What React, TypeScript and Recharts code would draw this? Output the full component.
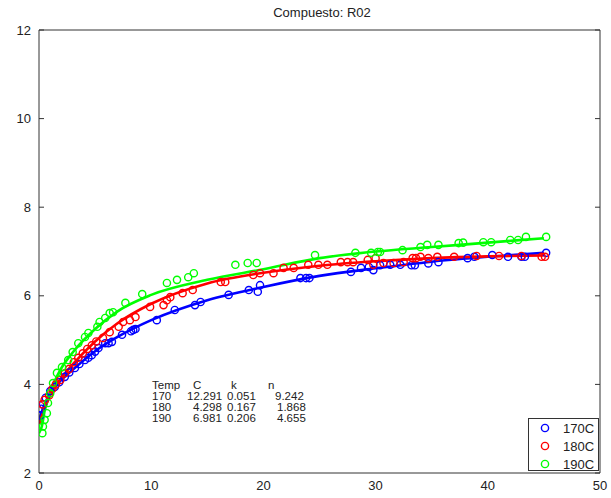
import React from 'react';
import { ComposedChart, Line, Scatter, XAxis, YAxis } from 'recharts';

const xTicks = [0, 10, 20, 30, 40, 50];
const yTicks = [2, 4, 6, 8, 10, 12];
const temps = ['170C', '180C', '190C'];
const colors = ['#0000ff', '#ff0000', '#00ff00'];

// fitted curves
const fit170 = [[0, 3.2], [0.5, 3.55], [1, 3.8], [2, 4.1], [3, 4.33], [5, 4.75], [7, 5.07], [10, 5.45], [15, 5.9], [20, 6.2], [25, 6.45], [30, 6.62], [35, 6.77], [40, 6.88], [45, 6.97]];
const fit180 = [[0, 3.1], [0.5, 3.45], [1, 3.75], [2, 4.15], [3, 4.45], [5, 4.97], [7, 5.38], [10, 5.82], [15, 6.28], [20, 6.52], [25, 6.68], [30, 6.78], [35, 6.85], [40, 6.89], [45, 6.91]];
const fit190 = [[0, 2.9], [0.25, 3.05], [0.5, 3.4], [1, 3.82], [2, 4.37], [3, 4.72], [5, 5.25], [7, 5.65], [10, 6.02], [15, 6.36], [20, 6.6], [25, 6.85], [30, 7.0], [35, 7.1], [40, 7.2], [45, 7.3]];

// measured points
const obs170 = [
  [0.1, 3.3], [0.2, 3.45], [0.35, 3.55], [0.6, 3.7], [1.0, 3.85], [1.4, 3.94], [1.8, 4.05], [2.3, 4.17], [2.7, 4.27],
  [3.2, 4.37], [3.6, 4.46], [4.1, 4.55], [4.4, 4.6], [4.7, 4.66], [5.0, 4.74], [5.3, 4.82], [5.9, 4.93], [6.2, 4.93],
  [6.5, 4.96], [7.4, 5.12], [8.2, 5.2], [8.4, 5.23], [8.6, 5.25], [10.5, 5.45], [12.1, 5.68], [13.9, 5.79], [14.4, 5.86],
  [16.9, 6.02], [18.7, 6.13], [19.5, 6.09], [19.7, 6.24], [23.3, 6.4], [23.8, 6.4], [24.1, 6.4], [27.8, 6.54],
  [28.7, 6.63], [29.4, 6.65], [29.8, 6.58], [30.4, 6.69], [31.3, 6.7], [32.2, 6.7], [33.2, 6.69], [33.5, 6.69],
  [34.7, 6.73], [35.6, 6.76], [38.2, 6.85], [38.8, 6.88], [40.4, 6.92], [41.8, 6.88], [43.0, 6.88], [43.3, 6.88], [45.2, 6.97],
];
const obs180 = [
  [0.3, 3.55], [0.5, 3.65], [0.9, 3.75], [1.2, 3.9], [1.5, 4.0], [1.9, 4.1], [2.3, 4.25], [2.7, 4.35], [3.1, 4.5],
  [3.5, 4.6], [3.9, 4.7], [4.3, 4.8], [4.7, 4.88], [5.1, 4.97], [5.7, 5.05], [6.3, 5.18], [7.1, 5.3], [7.5, 5.41],
  [8.1, 5.45], [8.6, 5.52], [9.9, 5.75], [11.1, 5.79], [11.4, 5.9], [11.7, 5.97], [12.8, 6.06], [13.7, 6.13],
  [16.2, 6.31], [16.6, 6.31], [19.1, 6.47], [19.7, 6.51], [20.9, 6.51], [21.8, 6.63], [22.7, 6.63], [24.0, 6.7],
  [24.9, 6.7], [25.7, 6.7], [26.9, 6.76], [27.5, 6.76], [28.0, 6.76], [29.3, 6.81], [29.8, 6.7], [30.0, 6.85],
  [30.7, 6.74], [31.6, 6.74], [32.5, 6.76], [33.3, 6.85], [33.6, 6.85], [34.0, 6.88], [34.7, 6.85], [35.5, 6.88],
  [37.0, 6.88], [39.0, 6.9], [41.0, 6.9], [43.0, 6.9], [44.8, 6.88], [45.1, 6.88],
];
const obs190 = [
  [0.3, 2.9], [0.35, 3.05], [0.5, 3.2], [0.7, 3.35], [0.8, 3.58], [1.0, 3.8], [1.25, 4.03], [1.6, 4.26], [2.05, 4.39],
  [2.6, 4.55], [3.0, 4.73], [3.5, 4.93], [4.1, 5.07], [4.4, 5.16], [5.2, 5.3], [5.4, 5.41], [5.9, 5.5], [6.3, 5.61],
  [6.6, 5.63], [7.7, 5.84], [9.2, 6.04], [11.4, 6.29], [12.3, 6.36], [13.3, 6.42], [13.8, 6.51], [17.5, 6.7],
  [18.6, 6.74], [19.4, 6.74], [24.6, 6.92], [28.2, 6.97], [29.6, 6.97], [30.2, 6.99], [30.4, 6.99], [32.4, 7.03],
  [34.0, 7.1], [34.6, 7.15], [35.6, 7.15], [37.4, 7.19], [37.8, 7.2], [39.6, 7.21], [40.3, 7.21], [42.0, 7.26],
  [42.7, 7.26], [43.4, 7.33], [45.2, 7.33],
];

const tableHeader = ['Temp', 'C', 'k', 'n'];
const tableRows = [
  ['170', '12.291', '0.051', '9.242'],
  ['180', '4.298', '0.167', '1.868'],
  ['190', '6.981', '0.206', '4.655'],
];

const toPts = (a: number[][]) => a.map(([x, y]) => ({ x, y }));
const fits = [fit170, fit180, fit190].map(toPts);
const obs = [obs170, obs180, obs190].map(toPts);

const font = 'Liberation Sans, Arial, Helvetica, sans-serif';
const axisColor = '#333';
const blank = () => '';

const ring = (color: string) => (props: any) => (
  <circle cx={props.cx} cy={props.cy} r={3.6} fill="none" stroke={color} strokeWidth={1.4} />
);

// column starts for the parameter table
const headerX = [152, 193, 231, 268];
const cellX = [[152, 187, 227, 275], [152, 193, 227, 277], [152, 193, 227, 277]];

export default function App() {
  return (
    <div style={{ position: 'absolute', left: 0, top: 0, width: 611, height: 498, background: '#fff', fontFamily: font }}>
      <ComposedChart width={611} height={498} margin={{ top: 30, right: 11, bottom: 0, left: 0 }}>
        <XAxis dataKey="x" type="number" domain={[0, 50]} ticks={xTicks} allowDataOverflow height={25}
          tickLine={false} axisLine={{ stroke: axisColor }} tick={{ fill: '#222', fontSize: 13, fontFamily: font }} />
        <XAxis xAxisId="bin" type="number" domain={[0, 50]} ticks={xTicks} allowDataOverflow mirror
          tickFormatter={blank} axisLine={false} tickSize={5} tickLine={{ stroke: axisColor }} />
        <XAxis xAxisId="top" orientation="top" type="number" domain={[0, 50]} ticks={xTicks} allowDataOverflow mirror
          tickFormatter={blank} axisLine={{ stroke: axisColor }} tickSize={5} tickLine={{ stroke: axisColor }} />
        <YAxis type="number" domain={[2, 12]} ticks={yTicks} allowDataOverflow width={39}
          tickLine={false} axisLine={{ stroke: axisColor }} tick={{ fill: '#222', fontSize: 13, fontFamily: font }} />
        <YAxis yAxisId="lin" type="number" domain={[2, 12]} ticks={yTicks} allowDataOverflow mirror
          tickFormatter={blank} axisLine={false} tickSize={5} tickLine={{ stroke: axisColor }} />
        <YAxis yAxisId="right" orientation="right" type="number" domain={[2, 12]} ticks={yTicks} allowDataOverflow mirror
          tickFormatter={blank} axisLine={{ stroke: axisColor }} tickSize={5} tickLine={{ stroke: axisColor }} />
        {[0, 1, 2].flatMap((i) => [
          <Scatter key={'s' + i} data={obs[i]} dataKey="y" shape={ring(colors[i])} isAnimationActive={false} />,
          <Line key={'l' + i} data={fits[i]} dataKey="y" type="monotone" stroke={colors[i]} strokeWidth={2.6}
            dot={false} activeDot={false} isAnimationActive={false} />,
        ])}
      </ComposedChart>

      <div style={{ position: 'absolute', left: 0, width: 644, top: 5, textAlign: 'center', fontSize: 13, color: '#222' }}>
        Compuesto: R02
      </div>

      <div style={{ position: 'absolute', left: 0, top: 380, fontSize: 11.5, color: '#222', lineHeight: '11px' }}>
        {[tableHeader, ...tableRows].map((row, r) =>
          row.map((cell, c) => (
            <span key={r + '-' + c} style={{ position: 'absolute', top: r * 11, left: r === 0 ? headerX[c] : cellX[r - 1][c], whiteSpace: 'nowrap' }}>
              {cell}
            </span>
          ))
        )}
      </div>

      <div style={{ position: 'absolute', left: 528, top: 418, width: 71, height: 53, border: '1px solid ' + axisColor, background: '#fff', boxSizing: 'border-box' }}>
        {temps.map((t, i) => (
          <div key={t} style={{ position: 'absolute', left: 10, top: 1 + i * 18, height: 16, display: 'flex', alignItems: 'center', fontSize: 13, color: '#222' }}>
            <svg width={12} height={12} style={{ marginRight: 12 }}>
              <circle cx={6} cy={6} r={3.6} fill="none" stroke={colors[i]} strokeWidth={1.4} />
            </svg>
            {t}
          </div>
        ))}
      </div>
    </div>
  );
}
